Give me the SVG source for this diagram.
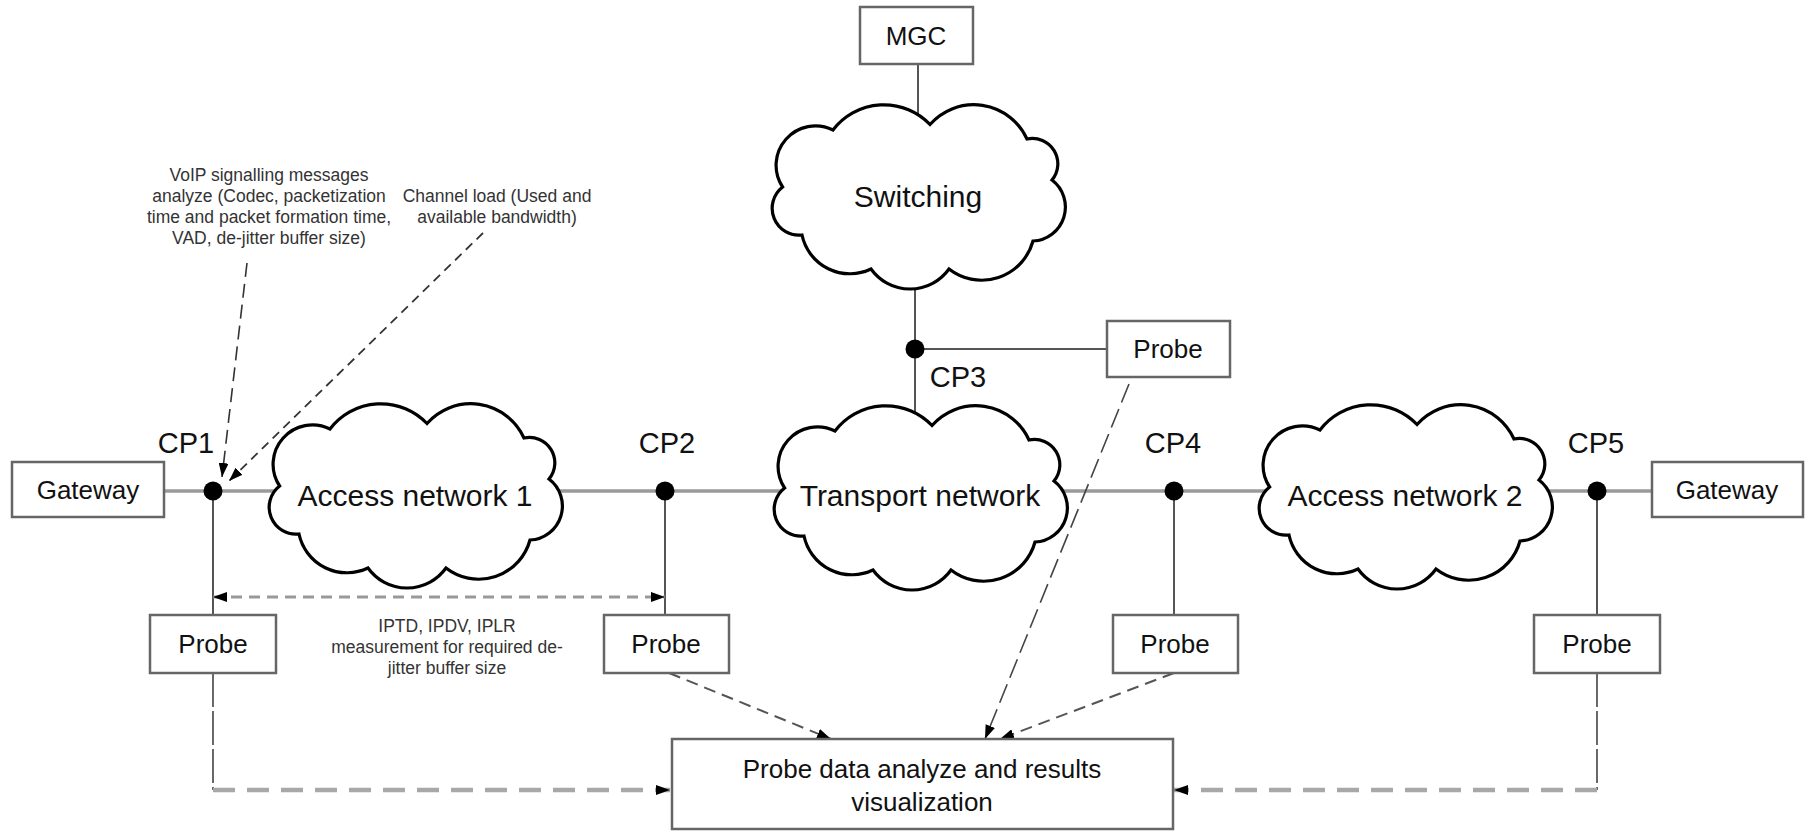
<svg xmlns="http://www.w3.org/2000/svg" xmlns:xlink="http://www.w3.org/1999/xlink" width="1808" height="832" viewBox="0 0 1808 832">
  <style>
    text { font-family: "Liberation Sans", Arial, sans-serif; fill: #111; }
    .lbl { font-size: 26px; text-anchor: middle; }
    .cp { font-size: 29px; text-anchor: middle; }
    .cloudtxt { font-size: 30px; text-anchor: middle; }
    .note { font-size: 17.5px; text-anchor: middle; fill: #333; }
    .box { fill: #fff; stroke: #666; stroke-width: 2.5; }
    .cloud { fill: #fff; stroke: #000; stroke-width: 3.2; }
    .trunk { stroke: #9a9a9a; stroke-width: 3.5; fill: none; }
    .tap { stroke: #555; stroke-width: 2; fill: none; }
    .dot { fill: #000; }
    .feed { stroke: #444; stroke-width: 1.6; fill: none; stroke-dasharray: 34 4; }
    .collect { stroke: #a8a8a8; stroke-width: 4.5; fill: none; stroke-dasharray: 22 12; }
    .measure { stroke: #999; stroke-width: 3; fill: none; stroke-dasharray: 11 7; }
    .report { stroke: #555; stroke-width: 2; fill: none; stroke-dasharray: 12 7; }
    .report-long { stroke: #444; stroke-width: 1.6; fill: none; stroke-dasharray: 20 7; }
    .hint { stroke: #333; stroke-width: 1.6; fill: none; stroke-dasharray: 14 7; }
    .hint-short { stroke: #333; stroke-width: 1.8; fill: none; stroke-dasharray: 9 6; }
  </style>
  <defs>
    <marker id="head" viewBox="0 0 14 10" refX="14" refY="5" markerWidth="14" markerHeight="10" markerUnits="userSpaceOnUse" orient="auto-start-reverse">
      <path d="M0,0 L14,5 L0,10 Z" fill="#000"/>
    </marker>
    <!-- generic cloud outline, about 297 x 186 -->
    <path id="cloud" d="M160,21.5 A58.4,58.4 0 0 1 257,36 A25.4,25.4 0 0 1 282,77 A34,34 0 0 1 263,138 A53.2,53.2 0 0 1 179,166 A48,48 0 0 1 101,166 A49,49 0 0 1 32,132 A26.9,26.9 0 0 1 12.6,84 A39.4,39.4 0 0 1 63,27 A63.9,63.9 0 0 1 160,21.5 Z"/>
  </defs>

  <rect width="1808" height="832" fill="#fff"/>

  <g id="connectors">
    <!-- main transport path -->
    <line class="trunk" x1="164" y1="491" x2="1652" y2="491"/>
    <!-- MGC to switching, switching to transport -->
    <line class="tap" x1="918" y1="64" x2="918" y2="125"/>
    <line class="tap" x1="915" y1="285" x2="915" y2="422"/>
    <line class="tap" x1="915" y1="349" x2="1107" y2="349"/>
    <!-- taps down to probes -->
    <line class="tap" x1="213" y1="491" x2="213" y2="615"/>
    <line class="tap" x1="665" y1="491" x2="665" y2="615"/>
    <line class="tap" x1="1174" y1="491" x2="1174" y2="615"/>
    <line class="tap" x1="1597" y1="491" x2="1597" y2="615"/>
    <!-- probe CP1 to analysis -->
    <line class="feed" x1="213" y1="673" x2="213" y2="790"/>
    <line class="collect" x1="213" y1="790" x2="670" y2="790" marker-end="url(#head)"/>
    <!-- probe CP5 to analysis -->
    <line class="feed" x1="1597" y1="673" x2="1597" y2="790"/>
    <line class="collect" x1="1597" y1="790" x2="1174" y2="790" marker-end="url(#head)"/>
    <!-- CP1 to CP2 measurement -->
    <line class="measure" x1="213" y1="597" x2="665" y2="597" marker-start="url(#head)" marker-end="url(#head)"/>
    <!-- other probes to analysis -->
    <line class="report" x1="669" y1="673" x2="831" y2="739" marker-end="url(#head)"/>
    <line class="report-long" x1="1129" y1="384" x2="985" y2="739" marker-end="url(#head)"/>
    <line class="report" x1="1174" y1="673" x2="1000" y2="739" marker-end="url(#head)"/>
    <!-- annotation pointers at CP1 -->
    <line class="hint" x1="247" y1="263" x2="222" y2="477" marker-end="url(#head)"/>
    <line class="hint-short" x1="483" y1="233" x2="229" y2="481" marker-end="url(#head)"/>
  </g>

  <g id="mgc">
    <rect class="box" x="860" y="7" width="113" height="57"/>
    <text class="lbl" x="916" y="45">MGC</text>
  </g>

  <g id="switching">
    <use href="#cloud" class="cloud" transform="translate(770,103)"/>
    <text class="cloudtxt" x="918" y="207">Switching</text>
  </g>

  <g id="transport-network">
    <use href="#cloud" class="cloud" transform="translate(772,404)"/>
    <text class="cloudtxt" x="920" y="506">Transport network</text>
  </g>

  <g id="access-network-1">
    <use href="#cloud" class="cloud" transform="translate(267,402)"/>
    <text class="cloudtxt" x="415" y="506">Access network 1</text>
  </g>

  <g id="access-network-2">
    <use href="#cloud" class="cloud" transform="translate(1257,403)"/>
    <text class="cloudtxt" x="1405" y="506">Access network 2</text>
  </g>

  <g id="gateway-left">
    <rect class="box" x="12" y="462" width="152" height="55"/>
    <text class="lbl" x="88" y="499">Gateway</text>
  </g>

  <g id="gateway-right">
    <rect class="box" x="1652" y="462" width="151" height="55"/>
    <text class="lbl" x="1727" y="499">Gateway</text>
  </g>

  <g id="cp1">
    <circle class="dot" cx="213" cy="491" r="9.5"/>
    <text class="cp" x="186" y="453">CP1</text>
  </g>
  <g id="cp2">
    <circle class="dot" cx="665" cy="491" r="9.5"/>
    <text class="cp" x="667" y="453">CP2</text>
  </g>
  <g id="cp3">
    <circle class="dot" cx="915" cy="349" r="9.5"/>
    <text class="cp" x="958" y="387">CP3</text>
  </g>
  <g id="cp4">
    <circle class="dot" cx="1174" cy="491" r="9.5"/>
    <text class="cp" x="1173" y="453">CP4</text>
  </g>
  <g id="cp5">
    <circle class="dot" cx="1597" cy="491" r="9.5"/>
    <text class="cp" x="1596" y="453">CP5</text>
  </g>

  <g id="probe-cp1">
    <rect class="box" x="150" y="615" width="126" height="58"/>
    <text class="lbl" x="213" y="653">Probe</text>
  </g>
  <g id="probe-cp2">
    <rect class="box" x="604" y="615" width="125" height="58"/>
    <text class="lbl" x="666" y="653">Probe</text>
  </g>
  <g id="probe-cp3">
    <rect class="box" x="1107" y="321" width="123" height="56"/>
    <text class="lbl" x="1168" y="358">Probe</text>
  </g>
  <g id="probe-cp4">
    <rect class="box" x="1113" y="615" width="125" height="58"/>
    <text class="lbl" x="1175" y="653">Probe</text>
  </g>
  <g id="probe-cp5">
    <rect class="box" x="1534" y="615" width="126" height="58"/>
    <text class="lbl" x="1597" y="653">Probe</text>
  </g>

  <g id="analysis">
    <rect class="box" x="672" y="739" width="501" height="90"/>
    <text class="lbl" x="922" y="778">Probe data analyze and results</text>
    <text class="lbl" x="922" y="811">visualization</text>
  </g>

  <g id="note-signalling">
    <text class="note" x="269" y="181">VoIP signalling messages</text>
    <text class="note" x="269" y="202">analyze (Codec, packetization</text>
    <text class="note" x="269" y="223">time and packet formation time,</text>
    <text class="note" x="269" y="244">VAD, de-jitter buffer size)</text>
  </g>

  <g id="note-load">
    <text class="note" x="497" y="202">Channel load (Used and</text>
    <text class="note" x="497" y="223">available bandwidth)</text>
  </g>

  <g id="note-delay">
    <text class="note" x="447" y="632">IPTD, IPDV, IPLR</text>
    <text class="note" x="447" y="653">measurement for required de-</text>
    <text class="note" x="447" y="674">jitter buffer size</text>
  </g>
</svg>
